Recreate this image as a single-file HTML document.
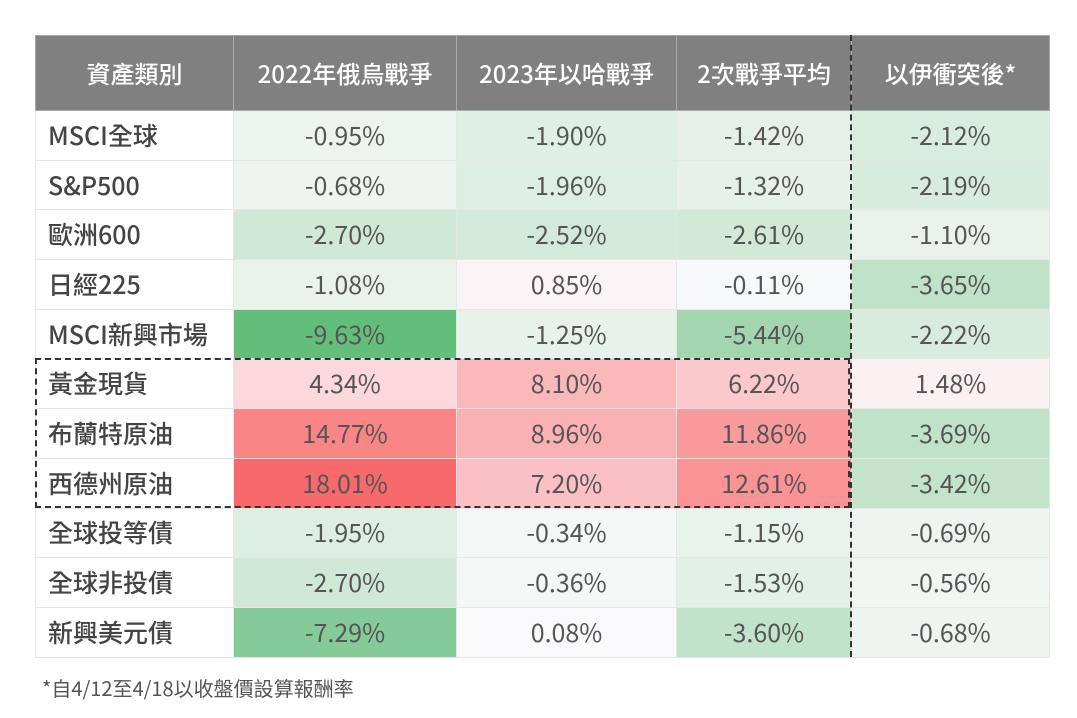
<!DOCTYPE html>
<html><head><meta charset="utf-8"><style>
body{margin:0;width:1077px;height:718px;background:#fff;font-family:"Noto Sans CJK TC","Liberation Sans",sans-serif;position:relative;overflow:hidden}
table{position:absolute;left:35px;top:35px;border-collapse:collapse;table-layout:fixed}
td,th{border:1px solid #e6e6e6;height:48.7px;padding:0;text-align:center;font-size:25px;color:#555;font-weight:normal;line-height:1}
th{background:#808080;color:#fff;height:74px;font-size:24px;border-color:#aaa;font-weight:500}
td.l{text-align:left;padding-left:12px;font-size:25px;color:#444;background:#fff;font-weight:500}
.box{position:absolute;left:35px;top:358px;width:815px;height:150px;border:2px dashed #333;box-sizing:border-box}
.vl{position:absolute;left:850px;top:35px;height:622px;border-left:2px dashed #333}
.note{position:absolute;left:42px;top:673px;font-size:20px;color:#555}
</style></head><body>
<table>
<colgroup><col style="width:198px"><col style="width:223px"><col style="width:220px"><col style="width:175px"><col style="width:198px"></colgroup>
<tr><th>資產類別</th><th>2022年俄烏戰爭</th><th>2023年以哈戰爭</th><th>2次戰爭平均</th><th>以伊衝突後*</th></tr>
<tr><td class="l">MSCI全球</td><td style="background:#ebf4ee">-0.95%</td><td style="background:#deefe3">-1.90%</td><td style="background:#e5f1e8">-1.42%</td><td style="background:#d9eddf">-2.12%</td></tr>
<tr><td class="l">S&amp;P500</td><td style="background:#eef5f0">-0.68%</td><td style="background:#ddeee2">-1.96%</td><td style="background:#e6f2e9">-1.32%</td><td style="background:#d8ecde">-2.19%</td></tr>
<tr><td class="l">歐洲600</td><td style="background:#d0e9d7">-2.70%</td><td style="background:#d3eada">-2.52%</td><td style="background:#d2e9d8">-2.61%</td><td style="background:#e9f3ec">-1.10%</td></tr>
<tr><td class="l">日經225</td><td style="background:#e9f3ec">-1.08%</td><td style="background:#fbf4f6">0.85%</td><td style="background:#f7f8fa">-0.11%</td><td style="background:#bfe2c8">-3.65%</td></tr>
<tr><td class="l">MSCI新興市場</td><td style="background:#63be7b">-9.63%</td><td style="background:#e7f2ea">-1.25%</td><td style="background:#a3d6b0">-5.44%</td><td style="background:#d8ecdd">-2.22%</td></tr>
<tr><td class="l">黃金現貨</td><td style="background:#fbd8dc">4.34%</td><td style="background:#fab8bb">8.10%</td><td style="background:#fbc8cb">6.22%</td><td style="background:#fbf1f3">1.48%</td></tr>
<tr><td class="l">布蘭特原油</td><td style="background:#f98587">14.77%</td><td style="background:#fab1b4">8.96%</td><td style="background:#f99a9c">11.86%</td><td style="background:#bfe2c8">-3.69%</td></tr>
<tr><td class="l">西德州原油</td><td style="background:#f8696b">18.01%</td><td style="background:#fac0c3">7.20%</td><td style="background:#f99395">12.61%</td><td style="background:#c3e4cb">-3.42%</td></tr>
<tr><td class="l">全球投等債</td><td style="background:#ddeee2">-1.95%</td><td style="background:#f3f7f5">-0.34%</td><td style="background:#e8f3eb">-1.15%</td><td style="background:#eef5f0">-0.69%</td></tr>
<tr><td class="l">全球非投債</td><td style="background:#d0e9d7">-2.70%</td><td style="background:#f3f7f5">-0.36%</td><td style="background:#e3f0e7">-1.53%</td><td style="background:#f0f6f2">-0.56%</td></tr>
<tr><td class="l">新興美元債</td><td style="background:#85cb97">-7.29%</td><td style="background:#f9f8fb">0.08%</td><td style="background:#c0e3c9">-3.60%</td><td style="background:#eef5f0">-0.68%</td></tr>
</table>
<div class="box"></div><div class="vl"></div>
<div class="note">*自4/12至4/18以收盤價設算報酬率</div>
</body></html>
